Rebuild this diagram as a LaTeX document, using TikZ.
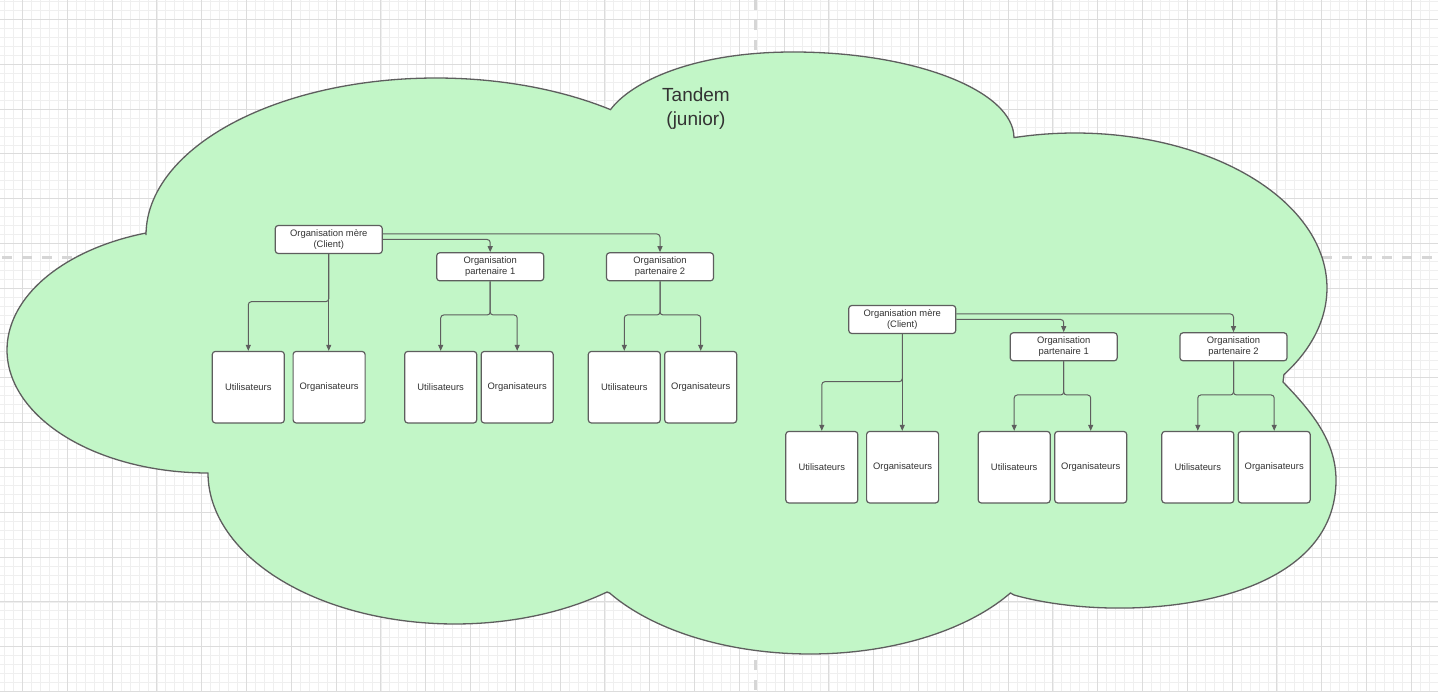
\documentclass[tikz,border=0pt]{standalone}
\usepackage{fontspec}
\setmainfont{Liberation Sans}
\usetikzlibrary{arrows.meta}
\definecolor{cloudfill}{RGB}{194,246,199}
\definecolor{edgec}{HTML}{5E5E5E}
\definecolor{txtc}{HTML}{333333}
\definecolor{gridminor}{HTML}{EFEFEF}
\definecolor{gridmajor}{HTML}{DCDCDC}
\definecolor{dashc}{HTML}{D6D6D6}
\tikzset{
  box/.style={draw=edgec, fill=white, line width=1.2pt, rounded corners=3pt, inner sep=0pt, align=center, text=txtc, font=\fontsize{9.4}{11}\selectfont},
  orgbox/.style={box, minimum width=107pt, minimum height=28pt},
  leafbox/.style={box, minimum width=72pt, minimum height=71.5pt},
  link/.style={draw=edgec, line width=1pt, rounded corners=3pt, -{Triangle[length=6pt,width=5pt]}},
  minorline/.style={draw=gridminor, line width=0.8pt},
  majorline/.style={draw=gridmajor, line width=1pt},
  guide/.style={draw=dashc, line width=3pt, dash pattern=on 10pt off 10pt},
}
\newcommand{\orggroup}[3]{%
  \begin{scope}[shift={(#2,#3)}]
    \node[orgbox] (#1mere) at (328.75,239.5) {Organisation mère\\(Client)};
    \node[orgbox] (#1pa) at (490.2,266.8) {Organisation\\partenaire 1};
    \node[orgbox] (#1pb) at (660,266.8) {Organisation\\partenaire 2};
    \node[leafbox] (#1ua) at (248.3,387.2) {Utilisateurs};
    \node[leafbox] (#1oa) at (329.1,387.2) {Organisateurs};
    \node[leafbox] (#1ub) at (440.7,387.2) {Utilisateurs};
    \node[leafbox] (#1ob) at (517.2,387.2) {Organisateurs};
    \node[leafbox] (#1uc) at (624.3,387.2) {Utilisateurs};
    \node[leafbox] (#1oc) at (700.7,387.2) {Organisateurs};
    \coordinate (#1sa) at (328.75,301.7);
    \coordinate (#1sb) at (490.2,315);
    \coordinate (#1sc) at (660,315);
  \end{scope}
  \draw[link] ([yshift=5.5pt]#1mere.east) -| (#1pb.north);
  \draw[link] (#1mere.east) -| (#1pa.north);
  \draw[link] (#1mere.south) -- (#1sa) -| (#1ua.north);
  \draw[link] (#1mere.south) -- (#1mere.south |- #1oa.north);
  \draw[link] (#1pa.south) -- (#1sb) -| (#1ub.north);
  \draw[link] (#1pa.south) -- (#1sb) -| (#1ob.north);
  \draw[link] (#1pb.south) -- (#1sc) -| (#1uc.north);
  \draw[link] (#1pb.south) -- (#1sc) -| (#1oc.north);
}
\begin{document}
\begin{tikzpicture}[x=1pt,y=-1pt]
\useasboundingbox (0,0) rectangle (1438,692);
\fill[white] (0,0) rectangle (1438,692);
\begin{scope}
  \clip (0,0) rectangle (1438,692);
  \foreach \i in {-3,...,160} \draw[minorline] ({22.5+8.96*\i},0) -- ++(0,692);
  \foreach \i in {-3,...,78} \draw[minorline] (0,{19.5+8.96*\i}) -- ++(1438,0);
  \foreach \i in {-1,...,32} \draw[majorline] ({22.5+44.8*\i},0) -- ++(0,692);
  \foreach \i in {-1,...,16} \draw[majorline] (0,{19.5+44.8*\i}) -- ++(1438,0);
  \draw[guide] (755,0) -- (755,692);
  \draw[guide] (2,258) -- (1438,258);
\end{scope}
% cloud
\filldraw[fill=cloudfill, draw=edgec, line width=1.3pt]
  plot[domain=180:307, samples=80, variable=\t] ({436+290*cos(\t)},{235+157*sin(\t)})
  .. controls (631,82) and (693,52) .. (793,52)
  .. controls (915,52) and (1014,91) .. (1014,138)
  -- plot[domain=256:394, samples=80, variable=\t] ({1075+252*cos(\t)},{288+155*sin(\t)})
  -- (1283,382)
  .. controls (1310,410) and (1336,440) .. (1336,480)
  .. controls (1336,610) and (1120,625) .. (1014,595)
  -- plot[domain=33:147, samples=80, variable=\t] ({810+239*cos(\t)},{520+134*sin(\t)})
  -- plot[domain=52:180, samples=80, variable=\t] ({455+247*cos(\t)},{473+151*sin(\t)})
  -- plot[domain=90:252, samples=80, variable=\t] ({208+201*cos(\t)},{350+123*sin(\t)})
  -- cycle;
\node[text=txtc, align=center, font=\fontsize{19}{24}\selectfont] (title) at (696,109) {Tandem\\(junior)};
\orggroup{L}{0}{0}
\orggroup{R}{573.5}{80}
\end{tikzpicture}
\end{document}
